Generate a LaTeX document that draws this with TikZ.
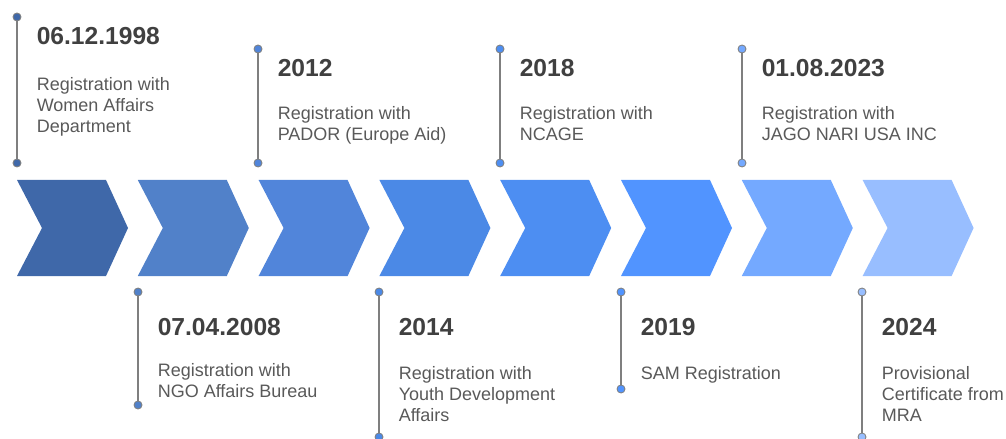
\documentclass[tikz,border=0pt]{standalone}
\usepackage{fontspec}
\setmainfont{Liberation Sans}
% Farben der acht Pfeile (von dunkel nach hell)
\definecolor{pfeilA}{HTML}{3F68A9}
\definecolor{pfeilB}{HTML}{5181C9}
\definecolor{pfeilC}{HTML}{5185DA}
\definecolor{pfeilD}{HTML}{4B89E6}
\definecolor{pfeilE}{HTML}{4D8EF2}
\definecolor{pfeilF}{HTML}{5194FF}
\definecolor{pfeilG}{HTML}{74A9FF}
\definecolor{pfeilH}{HTML}{98BEFF}
\definecolor{linie}{HTML}{7F7F7F}
\definecolor{datumgrau}{HTML}{404040}
\definecolor{textgrau}{HTML}{595959}
\begin{document}
\begin{tikzpicture}[x=0.025cm,y=-0.025cm,
    punkt/.style={circle,draw=linie,line width=0.6pt,inner sep=0pt,minimum size=0.2cm},
    verbindung/.style={draw=linie,line width=1.2pt},
    datum/.style={anchor=base west,inner sep=0pt,text=datumgrau,font=\fontsize{17.5}{20}\selectfont\bfseries},
    beschreibung/.style={anchor=north west,inner sep=0pt,align=left,text=textgrau,font=\fontsize{12.8}{14.9}\selectfont}]
    % Bildgröße wie im Original (in Pixeln gerechnet, y zeigt nach unten):
    \useasboundingbox (0,0) rectangle (1006,439);
    % Die acht Pfeile in der Mitte. Jeder hat hinten eine Kerbe und vorne eine Spitze.
    \foreach \i/\farbe in {0/pfeilA,1/pfeilB,2/pfeilC,3/pfeilD,4/pfeilE,5/pfeilF,6/pfeilG,7/pfeilH}
        \fill[\farbe] (17+120.8*\i,180) -- ++(89,0) -- ++(22,48) -- ++(-22,48) -- ++(-89,0) -- ++(25,-48) -- cycle;
    % Die Ereignisse: abwechselnd oben und unten, je zwei Punkte mit einer Linie dazwischen,
    % daneben das Datum und die Beschreibung (die Beschreibung hängt an ihrer Oberkante,
    % weil bei mehrzeiligen Knoten "base" die letzte Zeile ist).
    \foreach \n/\x/\ya/\yb/\yd/\yt/\farbe/\datum/\beschr in {
        1/17/17/163/45/77/pfeilA/06.12.1998/{Registration with\\Women Affairs\\Department},
        2/138/292/405/335/363/pfeilB/07.04.2008/{Registration with\\NGO Affairs Bureau},
        3/258/49/163/77/106/pfeilC/2012/{Registration with\\PADOR (Europe Aid)},
        4/379/292/437/335/366/pfeilD/2014/{Registration with\\Youth Development\\Affairs},
        5/500/49/163/77/106/pfeilE/2018/{Registration with\\NCAGE},
        6/621/292/389/335/366/pfeilF/2019/{SAM Registration},
        7/742/49/163/77/106/pfeilG/01.08.2023/{Registration with\\JAGO NARI USA INC},
        8/862/292/437/335/366/pfeilH/2024/{Provisional\\Certificate from\\MRA}}
    {
        \node[punkt,fill=\farbe] (oben\n) at (\x,\ya) {};
        \node[punkt,fill=\farbe] (unten\n) at (\x,\yb) {};
        \draw[verbindung] (oben\n) -- (unten\n);
        \node[datum] (datum\n) at (\x+19.5,\yd) {\datum};
        \node[beschreibung] (text\n) at (\x+19.5,\yt) {\beschr};
    }
\end{tikzpicture}
\end{document}
